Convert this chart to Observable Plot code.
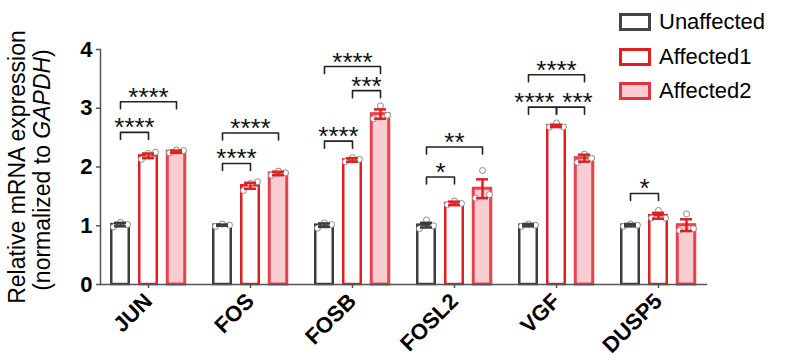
<!DOCTYPE html>
<html><head><meta charset="utf-8">
<script src="https://cdn.jsdelivr.net/npm/d3@7"></script>
<script src="https://cdn.jsdelivr.net/npm/@observablehq/plot@0.6"></script>
<style>
body{margin:0;background:#fff;}
#wrap{position:relative;width:800px;height:364px;font-family:'Liberation Sans',Arial,sans-serif;}
#legend{position:absolute;left:619px;top:0;}
.row{position:absolute;left:0;height:20px;display:flex;align-items:center;white-space:nowrap;}
.sw{box-sizing:border-box;width:32px;height:18px;border:3px solid #444;background:#fff;}
.lab{margin-left:8px;font-size:22px;color:#000;line-height:20px;}
</style></head><body><div id="wrap"><div id="legend"></div></div>
<script>
const genes = ["JUN","FOS","FOSB","FOSL2","VGF","DUSP5"];
const conditions = ["Unaffected","Affected1","Affected2"];
const meanUnaffected = [1.02,1.01,1.01,1.01,1.01,1.01];
const meanAffected1  = [2.19,1.68,2.12,1.38,2.70,1.17];
const meanAffected2  = [2.26,1.89,2.90,1.63,2.15,1.01];
const semUnaffected = [0.03,0.01,0.03,0.04,0.02,0.02];
const semAffected1  = [0.04,0.05,0.03,0.03,0.02,0.05];
const semAffected2  = [0.02,0.03,0.08,0.16,0.06,0.10];
const pointsUnaffected = [[0.98,1.06,1.02],[0.99,1.03,1.01],[0.96,1.05,1.02],[0.95,1.10,1.00],[0.99,1.03,1.01],[0.99,1.03,1.01]];
const pointsAffected1  = [[2.13,2.23,2.25],[1.60,1.72,1.75],[2.09,2.16,2.13],[1.36,1.42,1.38],[2.68,2.75,2.68],[1.13,1.26,1.13]];
const pointsAffected2  = [[2.24,2.29,2.28],[1.86,1.93,1.90],[2.82,3.04,2.88],[1.47,1.94,1.53],[2.08,2.22,2.15],[0.92,1.20,0.95]];
const yTicks = [0,1,2,3,4];
const bracketGene  = ["JUN","JUN","FOS","FOS","FOSB","FOSB","FOSB","FOSL2","FOSL2","VGF","VGF","VGF","DUSP5"];
const bracketFrom  = ["Unaffected","Unaffected","Unaffected","Unaffected","Unaffected","Affected1","Unaffected","Unaffected","Unaffected","Unaffected","Affected1","Unaffected","Unaffected"];
const bracketTo    = ["Affected1","Affected2","Affected1","Affected2","Affected1","Affected2","Affected2","Affected1","Affected2","Affected1","Affected2","Affected2","Affected1"];
const bracketLevel = [2.59,3.11,2.06,2.58,2.44,3.30,3.71,1.83,2.34,3.02,3.02,3.57,1.55];
const bracketStars = ["****","****","****","****","****","***","****","*","**","****","***","****","*"];

const means = {Unaffected: meanUnaffected, Affected1: meanAffected1, Affected2: meanAffected2};
const sems = {Unaffected: semUnaffected, Affected1: semAffected1, Affected2: semAffected2};
const pts = {Unaffected: pointsUnaffected, Affected1: pointsAffected1, Affected2: pointsAffected2};
const style = {
  Unaffected: {fill: "#ffffff", stroke: "#3d3d3d", err: "#3d3d3d", sw: 2.5},
  Affected1: {fill: "#ffffff", stroke: "#e02020", err: "#e02020", sw: 2.5},
  Affected2: {fill: "#f9cdd1", stroke: "#e6434a", err: "#e02020", sw: 3}
};

const bars = [];
const dots = [];
genes.forEach((g, i) => conditions.forEach(c => {
  bars.push({gene: g, cond: c, mean: means[c][i], sem: sems[c][i]});
  pts[c][i].forEach((v, r) => dots.push({gene: g, cond: c, rep: r, value: v}));
}));
const ci = c => conditions.indexOf(c);
const brackets = bracketGene.map((g, i) => ({gene: g, from: bracketFrom[i], to: bracketTo[i], level: bracketLevel[i], stars: bracketStars[i],
  adjacent: Math.abs(ci(bracketFrom[i]) - ci(bracketTo[i])) === 1,
  mid: conditions[(ci(bracketFrom[i]) + ci(bracketTo[i])) / 2 | 0]}));
// collision avoidance: adjacent brackets sharing a level in the same gene push their labels apart
brackets.forEach(b => {
  b.crowded = b.adjacent && brackets.some(o => o !== b && o.adjacent && o.gene === b.gene && o.level === b.level);
  b.side = ci(b.from) === 0 ? "left" : "right";
});
const drop = 0.12;
const bracketPts = brackets.flatMap((b, i) => [
  {id: i, gene: b.gene, cond: b.from, y: b.level - drop},
  {id: i, gene: b.gene, cond: b.from, y: b.level},
  {id: i, gene: b.gene, cond: b.to, y: b.level},
  {id: i, gene: b.gene, cond: b.to, y: b.level - drop}
]);

const marks = [];
conditions.forEach(c => {
  const s = style[c];
  marks.push(Plot.barY(bars.filter(d => d.cond === c), {fx: "gene", x: "cond", y: "mean", fill: s.fill, stroke: s.stroke, strokeWidth: s.sw, insetLeft: 1.25, insetRight: 1.25}));
});
[-7, 0, 7].forEach((dx, r) => marks.push(Plot.dot(dots.filter(d => d.rep === r), {fx: "gene", x: "cond", y: "value", r: 3, stroke: "#8a8a8a", strokeWidth: 1, fill: "white", dx})));
conditions.forEach(c => {
  const s = style[c];
  const data = bars.filter(d => d.cond === c);
  marks.push(Plot.ruleX(data, {fx: "gene", x: "cond", y1: d => d.mean - d.sem, y2: d => d.mean + d.sem, stroke: s.err, strokeWidth: 2.5}));
  marks.push(Plot.tickY(data, {fx: "gene", x: "cond", y: d => d.mean + d.sem, stroke: s.err, strokeWidth: 2.5, insetLeft: 4, insetRight: 4}));
  marks.push(Plot.tickY(data, {fx: "gene", x: "cond", y: d => d.mean - d.sem, stroke: s.err, strokeWidth: 2.5, insetLeft: 4, insetRight: 4}));
});
marks.push(Plot.line(bracketPts, {fx: "gene", x: "cond", y: "y", z: "id", stroke: "#222", strokeWidth: 1.6}));
const starOpts = {fx: "gene", y: "level", text: "stars", dy: 4, lineAnchor: "bottom", fontSize: 26, fontWeight: "normal", fill: "#111"};
marks.push(Plot.text(brackets.filter(b => b.adjacent && !b.crowded), {...starOpts, x: "from", dx: 14}));
marks.push(Plot.text(brackets.filter(b => b.crowded && b.side === "left"), {...starOpts, x: "from", dx: 6}));
marks.push(Plot.text(brackets.filter(b => b.crowded && b.side === "right"), {...starOpts, x: "from", dx: 21}));
marks.push(Plot.text(brackets.filter(b => !b.adjacent), {...starOpts, x: "mid"}));
marks.push(Plot.frame({anchor: "bottom", facet: "super", stroke: "#555", strokeWidth: 1.5}));
marks.push(Plot.frame({anchor: "left", facet: "super", stroke: "#555", strokeWidth: 1.5}));
marks.push(Plot.axisY({ticks: yTicks, tickSize: 4, tickPadding: 4, stroke: "#555", strokeWidth: 1.5, fill: "#000", label: null, fontSize: 22, tickFormat: d3.format("d")}));
marks.push(Plot.axisFx({anchor: "bottom", tickRotate: -45, tickSize: 4, tickPadding: 9, stroke: "#555", strokeWidth: 1.5, fill: "#000", label: null, fontSize: 22}));

const chart = Plot.plot({
  width: 800, height: 364,
  marginLeft: 100, marginRight: 94, marginTop: 49, marginBottom: 80,
  style: {fontFamily: "'Liberation Sans', Arial, sans-serif", fontSize: "20px", fontWeight: "bold", background: "white", overflow: "visible"},
  fx: {domain: genes, paddingInner: 0.0588, paddingOuter: 0, round: false, label: null},
  x: {domain: conditions, paddingInner: 0.286, paddingOuter: 0.357, round: false, axis: null},
  y: {domain: [0, 4], axis: null},
  marks
});
const wrap = document.getElementById("wrap");
wrap.insertBefore(chart, wrap.firstChild);

const svg = d3.select(chart.tagName.toLowerCase() === "svg" ? chart : chart.querySelector("svg"));
const title = svg.append("g").attr("font-family", "'Liberation Sans', Arial, sans-serif").attr("font-size", 23).attr("font-weight", "normal").attr("fill", "#000").attr("text-anchor", "middle");
title.append("text").attr("transform", "translate(25,167) rotate(-90)").text("Relative mRNA expression");
const t2 = title.append("text").attr("transform", "translate(50,170) rotate(-90)");
t2.append("tspan").text("(normalized to ");
t2.append("tspan").attr("font-style", "italic").text("GAPDH");
t2.append("tspan").text(")");

const legendColors = {
  Unaffected: {border: "#444", bg: "#fff"},
  Affected1: {border: "#e02020", bg: "#fff"},
  Affected2: {border: "#e2363c", bg: "#f9cdd1"}
};
const leg = document.getElementById("legend");
conditions.forEach((c, i) => {
  const row = document.createElement("div");
  row.className = "row";
  row.style.top = (12 + i * 34.5) + "px";
  const sw = document.createElement("div");
  sw.className = "sw";
  sw.style.borderColor = legendColors[c].border;
  sw.style.background = legendColors[c].bg;
  const lab = document.createElement("span");
  lab.className = "lab";
  lab.textContent = c;
  row.appendChild(sw); row.appendChild(lab);
  leg.appendChild(row);
});
</script></body></html>
